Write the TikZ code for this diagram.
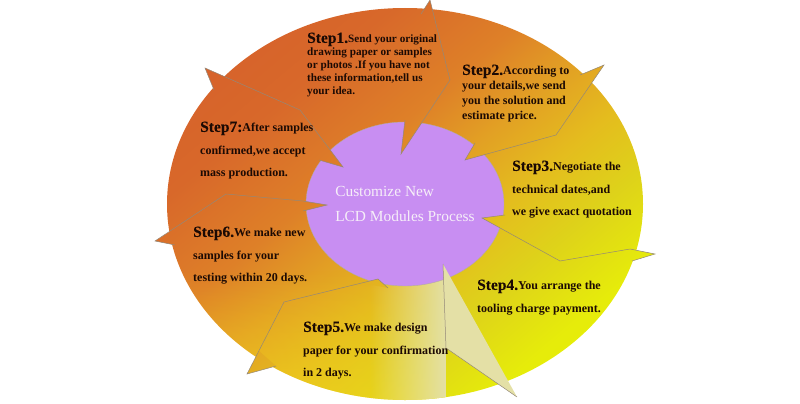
\documentclass[tikz,border=0pt]{standalone}
\usepackage{fontspec}
\setmainfont{Liberation Serif}
\newfontfamily\headfont{Liberation Serif}[FakeBold=0.3]
\usetikzlibrary{shapes.geometric, fadings}

\definecolor{ringA}{HTML}{D45C2C}
\definecolor{ringB}{HTML}{D8682A}
\definecolor{ringC}{HTML}{DE8028}
\definecolor{ringD}{HTML}{E2A024}
\definecolor{ringE}{HTML}{E4BC1E}
\definecolor{ringF}{HTML}{DED21A}
\definecolor{ringG}{HTML}{E6EC0A}
\definecolor{ringH}{HTML}{E8F200}
\definecolor{glow}{HTML}{F6D41C}
\definecolor{hubfill}{HTML}{C88EF2}
\definecolor{hubtext}{HTML}{F6EEF8}
\definecolor{ink}{HTML}{1C0A04}
\definecolor{seamgray}{HTML}{948878}
\definecolor{paleband}{HTML}{E4E0A6}

\pgfdeclarehorizontalshading{ringband}{100bp}{%
  color(0bp)=(ringA); color(15bp)=(ringA); color(32.5bp)=(ringB);
  color(43bp)=(ringC); color(50bp)=(ringD); color(57bp)=(ringE);
  color(64bp)=(ringF); color(72.4bp)=(ringG); color(85bp)=(ringH);
  color(100bp)=(ringH)}

\tikzset{
  band/.style={shading=ringband, shading angle=-50},
  seam/.style={draw=seamgray, line width=0.5pt},
  hub/.style={ellipse, fill=hubfill, draw=seamgray!70, line width=0.4pt,
    minimum width=198pt, minimum height=164pt, inner sep=0pt, align=left,
    text=hubtext, font={\fontsize{15.4}{25}\selectfont}},
  steptext/.style={anchor=north west, align=left, inner sep=0pt, text=ink,
    font={\fontsize{12}{22.5}\selectfont\bfseries}}
}
\newcommand{\stepno}[1]{{\fontsize{15.5}{15.5}\headfont #1}}

\begin{document}
\begin{tikzpicture}[x=1pt, y=-1pt]
\useasboundingbox (0,0) rectangle (800,404);
% colour field
\coordinate (fa) at (150,0);
\coordinate (fb) at (662,404);
% seams: outer tip o, entry oa, back ob, bend k, inner tip n, entry na, back nb
\coordinate (o1) at (205,68);  \coordinate (oa1) at (228,78);  \coordinate (ob1) at (214,90);
\coordinate (k1) at (300,110); \coordinate (n1) at (343,167);  \coordinate (na1) at (325,143); \coordinate (nb1) at (319,160);
\coordinate (o2) at (430,0);   \coordinate (oa2) at (433.5,14); \coordinate (ob2) at (421,14);
\coordinate (k2) at (450,80);  \coordinate (n2) at (401,154);  \coordinate (na2) at (424.8,118); \coordinate (nb2) at (405,120);
\coordinate (o3) at (604,65);  \coordinate (oa3) at (590,85.4); \coordinate (ob3) at (580,75);
\coordinate (k3) at (556,135); \coordinate (n3) at (465,160);  \coordinate (na3) at (492,152.6); \coordinate (nb3) at (475,143);
\coordinate (o4) at (655,254); \coordinate (oa4) at (630,249); \coordinate (ob4) at (632,261);
\coordinate (k4) at (560,261); \coordinate (n4) at (482,218);  \coordinate (na4) at (504,230); \coordinate (nb4) at (505,215);
\coordinate (o5) at (517,397); \coordinate (k5) at (446,348);  \coordinate (n5) at (443,264);
\coordinate (o6) at (247,374); \coordinate (oa6) at (259,351); \coordinate (ob6) at (276,366);
\coordinate (k6) at (284,302); \coordinate (n6) at (378,279);  \coordinate (na6) at (362,283); \coordinate (nb6) at (388,288);
\coordinate (o7) at (155,241); \coordinate (oa7) at (172,230); \coordinate (ob7) at (175,245);
\coordinate (k7) at (226,194); \coordinate (n7) at (327,205);  \coordinate (na7) at (303,201); \coordinate (nb7) at (303,211);

% ring
\begin{scope}
  \clip (405,204) ellipse [x radius=238pt, y radius=196pt];
  \shade[band] (fa) rectangle (fb);
  \fill[glow, fill opacity=0.45, path fading=north] (150,270) rectangle (446,404);
  \clip (370,270) -- (446,270) -- (k5) -- (o5) -- (370,404) -- cycle;
  \fill[paleband, path fading=west] (370,270) rectangle (446,404);
\end{scope}

\node[hub] (hub) at (405,204) {Customize New\\LCD Modules Process};

% spikes and barbs
\foreach \p/\q/\r in {o1/oa1/ob1, o2/oa2/ob2, o3/oa3/ob3, o4/oa4/ob4, o6/oa6/ob6, o7/oa7/ob7,
                      n1/na1/nb1, n2/na2/nb2, n3/na3/nb3, n4/na4/nb4, n6/na6/nb6, n7/na7/nb7}{
  \begin{scope}
    \clip (\p) -- (\q) -- (\r) -- cycle;
    \shade[band] (fa) rectangle (fb);
  \end{scope}
}
\fill[paleband] (n5) -- (k5) -- (o5) -- cycle;

\draw[seam] (ob1) -- (o1) -- (k1) -- (n1) -- (nb1);
\draw[seam] (ob2) -- (o2) -- (k2) -- (n2) -- (nb2);
\draw[seam] (ob3) -- (o3) -- (k3) -- (n3) -- (nb3);
\draw[seam] (nb4) -- (n4) -- (k4) -- (oa4) -- (o4) -- (ob4);
\draw[seam] (n5) -- (k5) -- (o5);
\draw[seam] (nb6) -- (n6) -- (k6) -- (o6) -- (ob6);
\draw[seam] (nb7) -- (n7) -- (na7) -- (k7) -- (o7) -- (ob7);

% step texts
\node[steptext, font={\fontsize{11.2}{12.9}\selectfont\bfseries}] (step1) at (307,32.4)
  {\stepno{Step1.}Send your original\\drawing paper or samples\\or photos .If you have not\\these information,tell us\\your idea.};
\node[steptext, font={\fontsize{12}{14.8}\selectfont\bfseries}] (step2) at (462,64.4)
  {\stepno{Step2.}According to\\your details,we send\\you the solution and\\estimate price.};
\node[steptext] (step3) at (512,160.4)
  {\stepno{Step3.}Negotiate the\\technical dates,and\\we give exact quotation};
\node[steptext] (step4) at (477,279.4)
  {\stepno{Step4.}You arrange the\\tooling charge payment.};
\node[steptext] (step5) at (303,321.4)
  {\stepno{Step5.}We make design\\paper for your confirmation\\in 2 days.};
\node[steptext] (step6) at (193,226.4)
  {\stepno{Step6.}We make new\\samples for your\\testing within 20 days.};
\node[steptext] (step7) at (200,121.4)
  {\stepno{Step7:}After samples\\confirmed,we accept\\mass production.};
\end{tikzpicture}
\end{document}
